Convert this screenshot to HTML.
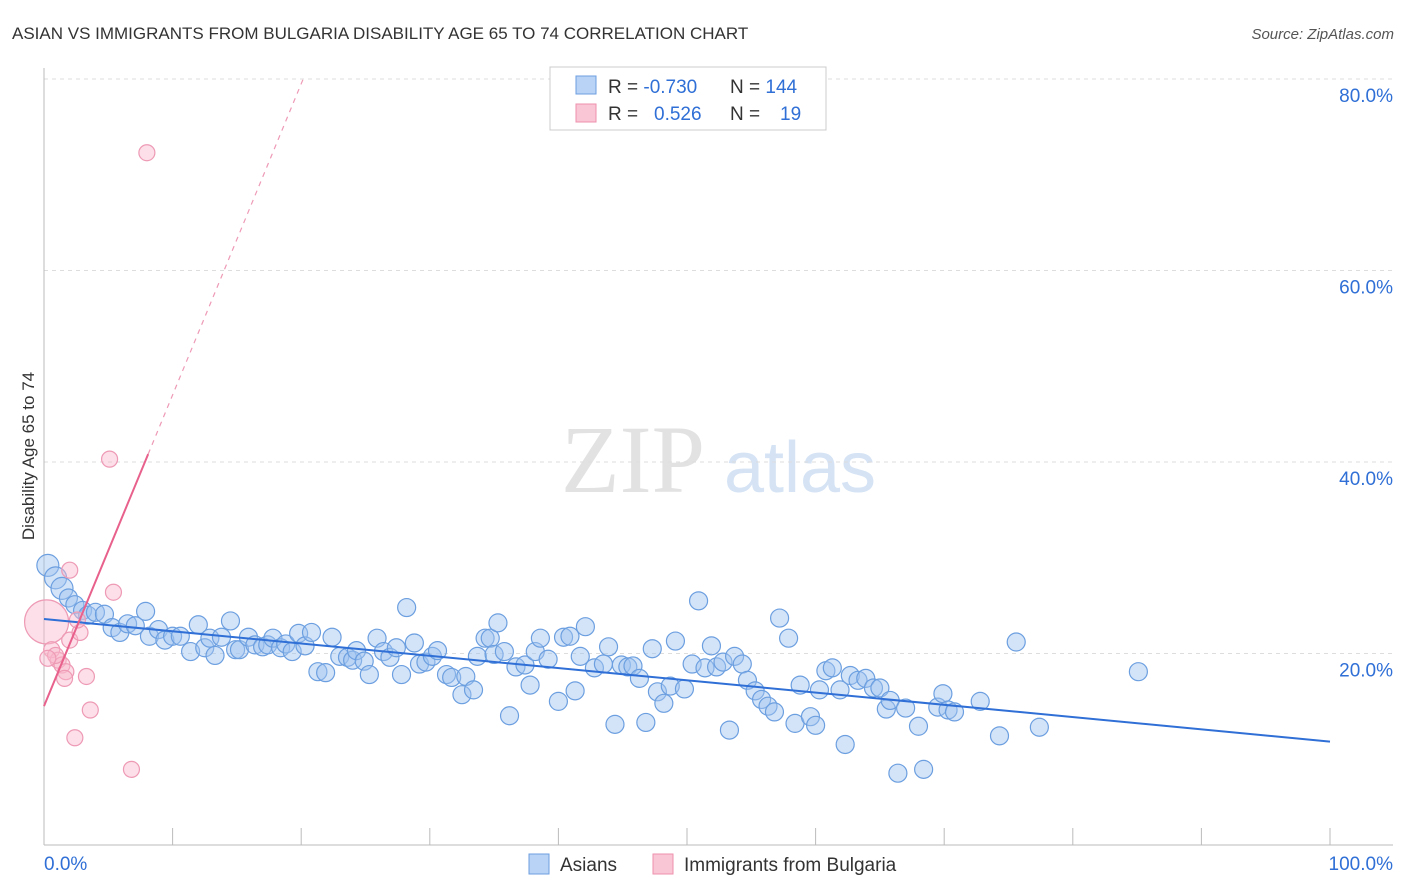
<!DOCTYPE html>
<html><head><meta charset="utf-8"><style>
body{margin:0;background:#fff;font-family:"Liberation Sans",sans-serif;}
svg{display:block}
</style></head><body>
<svg id="chart" width="1406" height="892">
<text x="12" y="39" font-size="17" fill="#333">ASIAN VS IMMIGRANTS FROM BULGARIA DISABILITY AGE 65 TO 74 CORRELATION CHART</text>
<text x="1394" y="39" font-size="15" fill="#555" text-anchor="end" font-style="italic">Source: ZipAtlas.com</text>
<text x="34" y="456" font-size="17" fill="#333" text-anchor="middle" transform="rotate(-90 34 456)">Disability Age 65 to 74</text>
<g>
<text x="633" y="492" font-size="96" fill="#e2e2e2" text-anchor="middle" font-family="Liberation Serif,serif">ZIP</text>
<text x="800" y="492" font-size="72" fill="#d5e3f5" text-anchor="middle">atlas</text>
</g>
<g id="grid"></g><g id="axes"></g><g id="marks"></g>
<g>
<rect x="550" y="67" width="276" height="63" fill="#fff" stroke="#ccc"/>
<rect x="576" y="76" width="20" height="18" fill="#b8d3f5" stroke="#6c9fe0"/>
<rect x="576" y="104" width="20" height="18" fill="#f9c6d6" stroke="#ee90ae"/>
<text x="608" y="93" font-size="19" fill="#333">R = <tspan fill="#2f6fd6">-0.730</tspan></text>
<text x="730" y="93" font-size="19" fill="#333">N = <tspan fill="#2f6fd6">144</tspan></text>
<text x="608" y="120" font-size="19" fill="#333">R = <tspan fill="#2f6fd6" x="654">0.526</tspan></text>
<text x="730" y="120" font-size="19" fill="#333">N = <tspan fill="#2f6fd6" x="780">19</tspan></text>
</g>
<g>
<rect x="529" y="854" width="20" height="20" fill="#b8d3f5" stroke="#6c9fe0"/>
<text x="560" y="871" font-size="19" fill="#333">Asians</text>
<rect x="653" y="854" width="20" height="20" fill="#f9c6d6" stroke="#ee90ae"/>
<text x="684" y="871" font-size="19" fill="#333">Immigrants from Bulgaria</text>
</g>
</svg>
<script>
const blueX=[0.3,0.9,1.4,1.9,2.4,3.0,3.4,4.0,4.7,5.3,5.9,6.5,7.1,7.9,8.2,8.9,9.4,10.0,10.6,11.4,12.0,12.5,12.9,13.3,13.8,14.5,14.9,15.2,15.9,16.4,17.0,17.4,17.8,18.4,18.8,19.3,19.8,20.3,20.8,21.3,21.9,22.4,23.0,23.6,24.0,24.3,24.9,25.3,25.9,26.4,26.9,27.4,27.8,28.2,28.8,29.2,29.7,30.2,30.6,31.3,31.7,32.5,32.8,33.4,33.7,34.3,34.7,35.0,35.3,35.8,36.2,36.7,37.4,37.8,38.2,38.6,39.2,40.0,40.4,40.9,41.3,41.7,42.1,42.8,43.5,43.9,44.4,44.9,45.4,45.8,46.3,46.8,47.3,47.7,48.2,48.7,49.1,49.8,50.4,50.9,51.4,51.9,52.3,52.8,53.3,53.7,54.3,54.7,55.3,55.8,56.3,56.8,57.2,57.9,58.4,58.8,59.6,60.0,60.3,60.8,61.3,61.9,62.3,62.7,63.3,63.9,64.5,65.0,65.5,65.8,66.4,67.0,68.0,68.4,69.5,69.9,70.3,70.8,72.8,74.3,75.6,77.4,85.1];
const blueY=[29.2,27.9,26.8,25.8,25.1,24.5,24.0,24.3,24.1,22.7,22.2,23.1,22.9,24.4,21.8,22.5,21.4,21.8,21.8,20.2,23.0,20.6,21.6,19.8,21.7,23.4,20.4,20.4,21.7,20.9,20.7,20.9,21.6,20.6,21.0,20.2,22.1,20.8,22.2,18.1,18.0,21.7,19.7,19.6,19.3,20.3,19.2,17.8,21.6,20.2,19.6,20.6,17.8,24.8,21.1,18.9,19.1,19.7,20.3,17.8,17.5,15.7,17.6,16.2,19.7,21.6,21.6,19.9,23.2,20.2,13.5,18.6,18.8,16.7,20.2,21.6,19.4,15.0,21.7,21.8,16.1,19.7,22.8,18.5,18.9,20.7,12.6,18.8,18.6,18.7,17.4,12.8,20.5,16.0,14.8,16.6,21.3,16.3,18.9,25.5,18.5,20.8,18.6,19.1,12.0,19.7,18.9,17.2,16.1,15.2,14.5,13.9,23.7,21.6,12.7,16.7,13.4,12.5,16.2,18.2,18.5,16.2,10.5,17.7,17.2,17.4,16.4,16.4,14.2,15.1,7.5,14.3,12.4,7.9,14.4,15.8,14.1,13.9,15.0,11.4,21.2,12.3,18.1];
const pinkX=[0.2,0.6,1.1,1.4,1.7,2.0,2.4,2.8,3.3,3.6,5.1,5.4,6.8,8.0,2.0,0.9,1.6,2.6,0.3];
const pinkY=[23.3,20.4,19.3,18.8,18.1,21.4,11.2,22.2,17.6,14.1,40.3,26.4,7.9,72.3,28.7,19.8,17.4,23.5,19.5];
const blueTrend=[23.6,10.8]; // y at x=0 and x=100
const pinkTrend=[14.5,3.25]; // intercept, slope
const yTicks=[20,40,60,80];
const xTickVals=[0,10,20,30,40,50,60,70,80,90,100];
const NS="http://www.w3.org/2000/svg";
const sx=v=>44+v*12.86, sy=v=>845-v*9.575;
function mk(t,a,p){const e=document.createElementNS(NS,t);for(const k in a)e.setAttribute(k,a[k]);p.appendChild(e);return e;}
const grid=document.getElementById('grid'),axes=document.getElementById('axes'),marks=document.getElementById('marks');
yTicks.forEach(v=>{
 const l=mk('line',{x1:44,x2:1393,y1:sy(v),y2:sy(v),stroke:'#ddd','stroke-dasharray':'4,4'},grid);
 
 
 const t=mk('text',{x:1393,y:sy(v)+23,'font-size':19,fill:'#2f6fd6','text-anchor':'end'},axes);
 t.textContent=v.toFixed(1)+'%';
 
 
});
const xa=mk('line',{x1:44,x2:1393,y1:845,y2:845,stroke:'#bbb'},axes);


const ya=mk('line',{x1:44,x2:44,y1:68,y2:845,stroke:'#bbb'},axes);


xTickVals.forEach(v=>{
 const t=mk('line',{x1:sx(v),x2:sx(v),y1:828,y2:845,stroke:'#bbb'},axes);
 
 
});
const xl0=mk('text',{x:44,y:870,'font-size':19,fill:'#2f6fd6'},axes);xl0.textContent='0.0%';


const xl1=mk('text',{x:1393,y:870,'font-size':19,fill:'#2f6fd6','text-anchor':'end'},axes);xl1.textContent='100.0%';


blueX.forEach((x,i)=>{
 const c=mk('circle',{cx:sx(x),cy:sy(blueY[i]),r:i<3?11:9,fill:'rgba(160,195,240,0.45)',stroke:'#6c9fe0','stroke-width':1.2},marks);
 
 
});
pinkX.forEach((x,i)=>{
 const c=mk('circle',{cx:sx(x),cy:sy(pinkY[i]),r:i==0?22:8,fill:'rgba(248,185,205,0.45)',stroke:'#ee9ab5','stroke-width':1.2},marks);
 
 
});
const bl=mk('line',{x1:sx(0),y1:sy(blueTrend[0]),x2:sx(100),y2:sy(blueTrend[1]),stroke:'#2f6fd6','stroke-width':2},marks);


const xe=8.1,xd=(80-pinkTrend[0])/pinkTrend[1];
const pl=mk('line',{x1:sx(0),y1:sy(pinkTrend[0]),x2:sx(xe),y2:sy(pinkTrend[0]+pinkTrend[1]*xe),stroke:'#e8608c','stroke-width':2},marks);


const pd=mk('line',{x1:sx(xe),y1:sy(pinkTrend[0]+pinkTrend[1]*xe),x2:sx(xd),y2:sy(80),stroke:'#ee9ab5','stroke-width':1.2,'stroke-dasharray':'5,5'},marks);


</script>
</body></html>
